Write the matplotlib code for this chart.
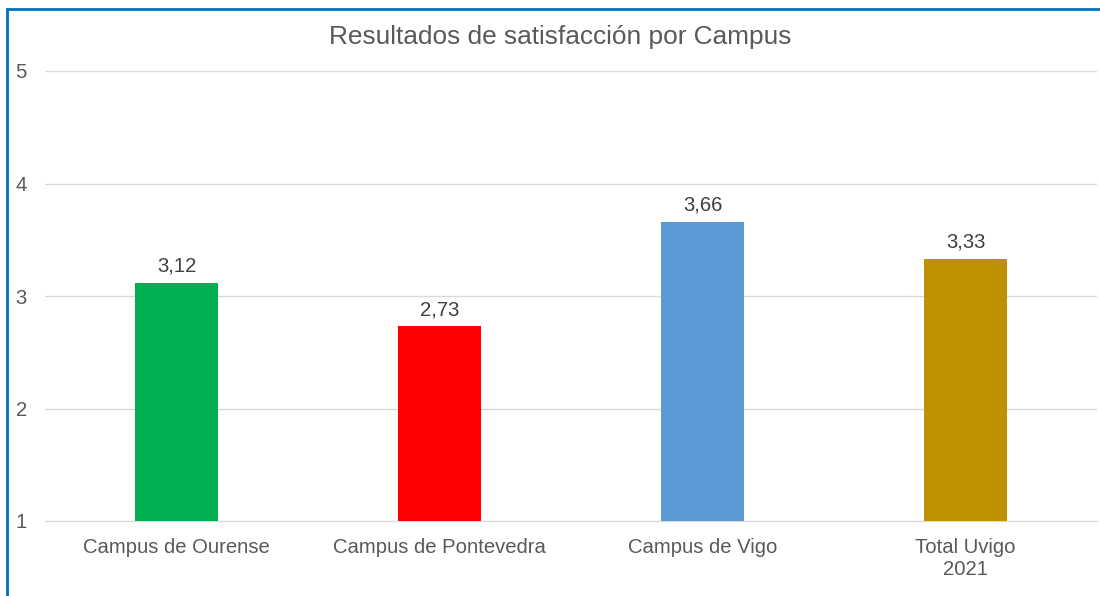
import matplotlib.pyplot as plt
from matplotlib.patches import Rectangle

# Datos del gráfico
campus = ['Campus de Ourense', 'Campus de Pontevedra', 'Campus de Vigo', 'Total Uvigo\n2021']
valores = [3.12, 2.73, 3.66, 3.33]
colores = ['#00B050', '#FF0000', '#5B9BD5', '#BF9000']
etiquetas = ['3,12', '2,73', '3,66', '3,33']

plt.rcParams['font.family'] = ['Liberation Sans', 'DejaVu Sans']

fig = plt.figure(figsize=(11, 5.96), dpi=100)
ax = fig.add_axes([45 / 1100, 1 - 521 / 596, 1052 / 1100, 450 / 596])

x = range(len(campus))
barras = ax.bar(x, valores, width=0.315, color=colores, zorder=3)

ax.set_xlim(-0.5, len(campus) - 0.5)
ax.set_ylim(1, 5)
ax.set_yticks([1, 2, 3, 4, 5])
ax.set_xticks(list(x))
ax.set_xticklabels(campus)
ax.grid(axis='y', color='#D9D9D9', linewidth=1, zorder=0)
ax.tick_params(axis='both', length=0, labelsize=14.6, colors='#595959')
ax.tick_params(axis='x', pad=12)
ax.tick_params(axis='y', pad=13)
for lado in ['top', 'right', 'left']:
    ax.spines[lado].set_visible(False)
ax.spines['bottom'].set_color('#D9D9D9')

# Etiquetas de datos
for b, txt in zip(barras, etiquetas):
    ax.annotate(txt, (b.get_x() + b.get_width() / 2, b.get_height()),
                xytext=(0, 5), textcoords='offset points', ha='center', va='bottom',
                fontsize=14.6, color='#404040')

fig.text(0.509, 1 - 37 / 596, 'Resultados de satisfacción por Campus', ha='center', va='center',
         fontsize=18.9, color='#595959')

# Borde azul
fig.add_artist(Rectangle((6.5 / 1100, -0.1), 1.2, (596 - 8.5) / 596 + 0.1, fill=False,
                         edgecolor='#0070C0', linewidth=2, transform=fig.transFigure))

fig.savefig('out.png', dpi=100)
